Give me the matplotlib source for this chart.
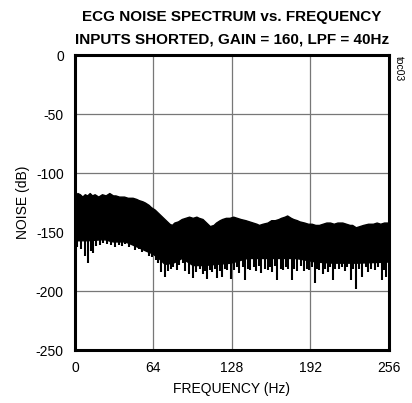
import matplotlib
matplotlib.use("Agg")
import matplotlib.pyplot as plt
import numpy as np

plt.rcParams['font.family'] = ['Liberation Sans', 'DejaVu Sans']
plt.rcParams['axes.unicode_minus'] = False

# upper edge of the noise band (dB)
upper_freq = [0, 2, 4, 6, 8, 10, 12, 14, 16, 19, 22, 25, 28, 31, 33, 36, 40, 43, 47, 50,
              52, 55, 57, 60, 62, 65, 67, 69, 71, 73, 75, 77, 79, 81, 84, 87, 90, 93,
              96, 99, 101, 104, 106, 108, 110, 113, 115, 118, 120, 123, 126, 129, 132,
              135, 139, 142, 145, 148, 150, 153, 157, 160, 163, 166, 168, 171, 173, 176,
              178, 181, 183, 187, 190, 193, 196, 199, 202, 205, 208, 211, 214, 218, 221,
              224, 226, 229, 232, 235, 239, 243, 246, 249, 252, 256]
upper_db = [-119, -117, -118, -120, -118, -119, -117, -119, -118, -120, -118, -119, -117,
            -119, -119, -120, -120, -121, -121, -122, -123, -124, -125, -127, -129, -131,
            -133, -135, -137, -139, -141, -143, -144, -142, -141, -139, -138, -137, -138,
            -137, -138, -139, -141, -143, -145, -144, -142, -140, -139, -138, -138, -137,
            -138, -139, -140, -141, -142, -143, -144, -143, -142, -140, -140, -139, -138,
            -137, -136, -138, -139, -140, -141, -142, -143, -143, -144, -144, -143, -142,
            -142, -143, -142, -142, -143, -144, -144, -146, -145, -144, -143, -143, -142,
            -143, -142, -142]

# lower edge of the solid part of the band (dB)
lower_freq = [0, 10, 24, 30, 41, 52, 58, 63, 68, 73, 80, 87, 96, 105, 115, 127,
              140, 160, 180, 196, 210, 230, 256]
lower_db = [-157, -157, -156, -158, -158, -163, -166, -168, -172, -177, -176, -172,
            -178, -178, -177, -176, -172, -172, -172, -175, -176, -176, -175]

# downward spikes: frequency (Hz) and depth (dB)
spike_freq = [1, 2, 5, 8, 10.6, 13, 15, 17, 20, 23, 26, 29, 33, 36, 38, 41, 44, 47, 49,
              52, 55, 58, 60, 63, 66, 68, 70, 73, 76, 78, 80, 83, 85, 88, 90, 93, 96,
              99, 102, 104, 106, 108, 110, 112, 114, 116, 118, 120, 122, 124, 127,
              130, 132, 134, 137, 139, 141, 143, 146, 148, 150, 152, 155, 157, 159,
              161, 163, 165, 168, 170, 172, 174, 177, 179, 181, 184, 187, 189, 191,
              193, 195.5, 197, 199, 202, 204, 206, 208, 210, 212, 215, 218, 220, 222,
              225, 227, 229, 232, 234, 237, 239, 241, 244.5, 247, 250, 252, 254]
spike_db = [-160, -163, -164, -170, -176, -166, -168, -162, -161, -159, -160, -161, -163,
            -161, -162, -160, -163, -161, -165, -164, -167, -166, -170, -171, -174,
            -176, -184, -188, -183, -181, -180, -182, -178, -176, -183, -186, -189,
            -184, -181, -186, -183, -190, -182, -184, -181, -189, -183, -188, -181,
            -182, -190, -182, -180, -185, -180, -191, -181, -182, -180, -183, -179,
            -185, -181, -182, -180, -184, -179, -191, -181, -182, -180, -181, -191,
            -181, -183, -179, -183, -181, -182, -180, -193, -181, -182, -186, -181,
            -184, -180, -191, -181, -181, -180, -183, -180, -191, -181, -198, -181,
            -188, -180, -184, -181, -182, -180, -191, -182, -188]

x_ticks = [0, 64, 128, 192, 256]
y_ticks = [0, -50, -100, -150, -200, -250]

fig = plt.figure(figsize=(4.12, 4.03), dpi=100)
ax = fig.add_axes([0.182, 0.1315, 0.762, 0.732])

lower_on_upper = np.interp(upper_freq, lower_freq, lower_db)
ax.fill_between(upper_freq, upper_db, lower_on_upper,
                color='black', linewidth=1.0, edgecolor='black')
ax.vlines(spike_freq, -150, spike_db, color='black', linewidth=1.5)

ax.set_xlim(0, 256)
ax.set_ylim(-250, 0)
ax.set_xticks(x_ticks)
ax.set_yticks(y_ticks)
ax.grid(True, color='#777777', linewidth=0.9)
ax.set_axisbelow(True)
ax.tick_params(length=0, labelsize=10, pad=8)
for s in ax.spines.values():
    s.set_linewidth(2.2)
    s.set_color('black')

ax.set_xlabel('FREQUENCY (Hz)', fontsize=10, labelpad=5)
ax.set_ylabel('NOISE (dB)', fontsize=10, labelpad=4)
fig.text(0.563, 0.958, 'ECG NOISE SPECTRUM vs. FREQUENCY', ha='center', va='center',
         fontsize=11, fontweight='bold')
fig.text(0.563, 0.902, 'INPUTS SHORTED, GAIN = 160, LPF = 40Hz', ha='center', va='center',
         fontsize=11, fontweight='bold')
fig.text(0.968, 0.83, 'toc03', rotation=270, ha='center', va='center', fontsize=7.5)

fig.savefig('out.png', dpi=100)
